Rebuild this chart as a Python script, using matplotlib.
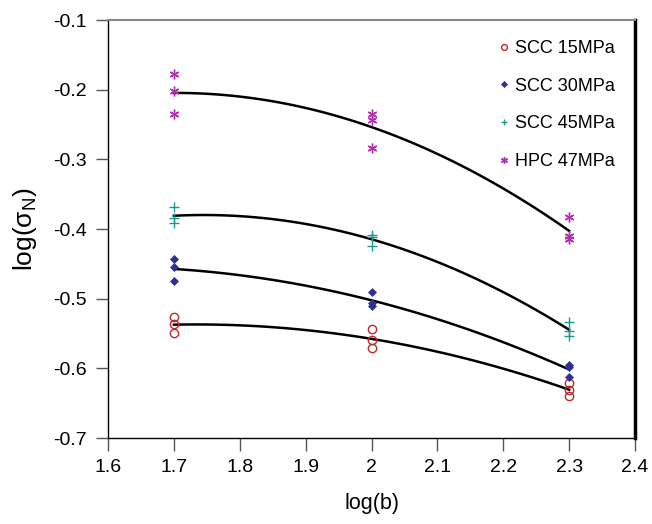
import numpy as np
import matplotlib.pyplot as plt

plt.rcParams['font.family'] = ['Liberation Sans', 'DejaVu Sans']
plt.rcParams['mathtext.fontset'] = 'custom'
plt.rcParams['mathtext.rm'] = 'Liberation Sans'

log_b = [1.7, 1.7, 1.7, 2.0, 2.0, 2.0, 2.3, 2.3, 2.3]

scc15 = [-0.526, -0.537, -0.549, -0.543, -0.559, -0.571, -0.621, -0.631, -0.640]
scc30 = [-0.443, -0.454, -0.475, -0.490, -0.506, -0.511, -0.595, -0.598, -0.612]
scc45 = [-0.368, -0.384, -0.391, -0.408, -0.412, -0.424, -0.533, -0.547, -0.554]
hpc47 = [-0.177, -0.202, -0.235, -0.235, -0.243, -0.283, -0.383, -0.410, -0.415]

labels = ['SCC 15MPa', 'SCC 30MPa', 'SCC 45MPa', 'HPC 47MPa']

fig = plt.figure(figsize=(6.52, 5.24), dpi=100)
ax = fig.add_axes([0.1656, 0.1641, 0.8084, 0.7977])

x = np.array(log_b)
xs = np.linspace(1.7, 2.3, 100)

styles = [
    dict(marker='o', mfc='none', mec='#c0282d', ms=6, mew=1.0),
    dict(marker='D', mfc='#2e3192', mec='#2e3192', ms=4.5, mew=0.5),
    dict(marker='+', mfc='none', mec='#1a9a8f', ms=7, mew=1.0),
    dict(marker=(6, 2, 0), mfc='none', mec='#b02fb0', ms=7, mew=1.0),
]

for vals, lab, st in zip([scc15, scc30, scc45, hpc47], labels, styles):
    y = np.array(vals)
    ax.plot(x, y, ls='none', label=lab, **st)
    coef = np.polyfit(x, y, 2)
    ax.plot(xs, np.polyval(coef, xs), color='black', lw=1.8, zorder=1)

ax.set_xlim(1.6, 2.4)
ax.set_ylim(-0.7, -0.1)
ax.set_xticks(np.arange(1.6, 2.41, 0.1))
ax.set_xticklabels(['1.6', '1.7', '1.8', '1.9', '2', '2.1', '2.2', '2.3', '2.4'])
ax.set_yticks(np.arange(-0.7, -0.09, 0.1))
ax.set_yticklabels(['-0.7', '-0.6', '-0.5', '-0.4', '-0.3', '-0.2', '-0.1'])
ax.tick_params(direction='out', length=9, width=1, labelsize=14, color='#555555', pad=6)

ax.spines['top'].set_color('#888888')
ax.spines['top'].set_linewidth(1.5)
ax.spines['right'].set_color('black')
ax.spines['right'].set_linewidth(2.5)
ax.spines['left'].set_linewidth(1)
ax.spines['bottom'].set_linewidth(1)

ax.set_xlabel('log(b)', fontsize=15.5, labelpad=12)
ax.set_ylabel(r'log(σ$_{\mathrm{N}}$)', fontsize=19, labelpad=10)

leg = ax.legend(loc='upper right', frameon=False, fontsize=13, markerscale=0.7,
                handletextpad=0.1, labelspacing=1.15, handlelength=1.0,
                borderaxespad=0.7)

fig.savefig('out.png', dpi=100)
